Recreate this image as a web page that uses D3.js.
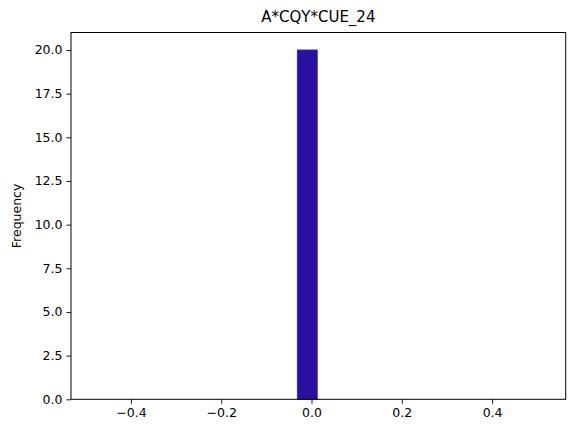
<!DOCTYPE html>
<html lang="en">
<head>
<meta charset="utf-8">
<title>A*CQY*CUE_24</title>
<style>
  body { margin: 0; background: #fff; }
  svg { font-family: "DejaVu Sans", sans-serif; }
</style>
</head>
<body>
<svg id="chart" width="576" height="433"></svg>
<script src="https://d3js.org/d3.v7.min.js"></script>
<script>
// histogram bins (edges) and counts
var binStarts = [-0.0315];
var binEnds = [0.0128];
var counts = [20];
var xTicks = [-0.4, -0.2, 0.0, 0.2, 0.4];
var yTicks = [0, 2.5, 5, 7.5, 10, 12.5, 15, 17.5, 20];
var xDomain = [-0.5327, 0.563];
var yDomain = [0, 21];

var svg = d3.select("#chart");
var margin = {left: 71, right: 576 - 565.7, top: 32.5, bottom: 433 - 399.3};
var width = 576 - margin.left - margin.right;
var height = 433 - margin.top - margin.bottom;

var g = svg.append("g").attr("transform", "translate(" + margin.left + "," + margin.top + ")");

var x = d3.scaleLinear().domain(xDomain).range([0, width]);
var y = d3.scaleLinear().domain(yDomain).range([height, 0]);

// bars
var bins = counts.map(function (c, i) { return {x0: binStarts[i], x1: binEnds[i], n: c}; });
g.selectAll("rect.bar").data(bins).enter().append("rect")
    .attr("class", "bar")
    .attr("x", function (d) { return x(d.x0); })
    .attr("width", function (d) { return x(d.x1) - x(d.x0); })
    .attr("y", function (d) { return y(d.n); })
    .attr("height", function (d) { return y(0) - y(d.n); })
    .attr("fill", "#2b0f9e")
    .attr("stroke", "#3d2ba8")
    .attr("stroke-width", 0.8);

// axes
var xAxis = d3.axisBottom(x).tickValues(xTicks).tickSize(4.5).tickPadding(4)
    .tickFormat(function (d) { return d3.format(".1f")(d).replace("-", "\u2212"); });
var yAxis = d3.axisLeft(y).tickValues(yTicks).tickSize(4.5).tickPadding(4)
    .tickFormat(d3.format(".1f"));

var gx = g.append("g").attr("transform", "translate(0," + height + ")").call(xAxis);
var gy = g.append("g").call(yAxis);
[gx, gy].forEach(function (a) {
    a.select(".domain").remove();
    a.selectAll("text").attr("font-size", "12.5px").attr("fill", "#000").attr("font-family", "DejaVu Sans, sans-serif");
    a.selectAll("line").attr("stroke", "#000").attr("stroke-width", 0.9);
});

// frame
g.append("rect").attr("x", 0).attr("y", 0).attr("width", width).attr("height", height)
    .attr("fill", "none").attr("stroke", "#000").attr("stroke-width", 1);

// title and label
svg.append("text").attr("x", margin.left + width / 2).attr("y", 22)
    .attr("text-anchor", "middle").attr("font-size", "15px").text("A*CQY*CUE_24");
svg.append("text")
    .attr("transform", "translate(21," + (margin.top + height / 2) + ") rotate(-90)")
    .attr("text-anchor", "middle").attr("font-size", "12.5px").text("Frequency");
</script>
</body>
</html>
